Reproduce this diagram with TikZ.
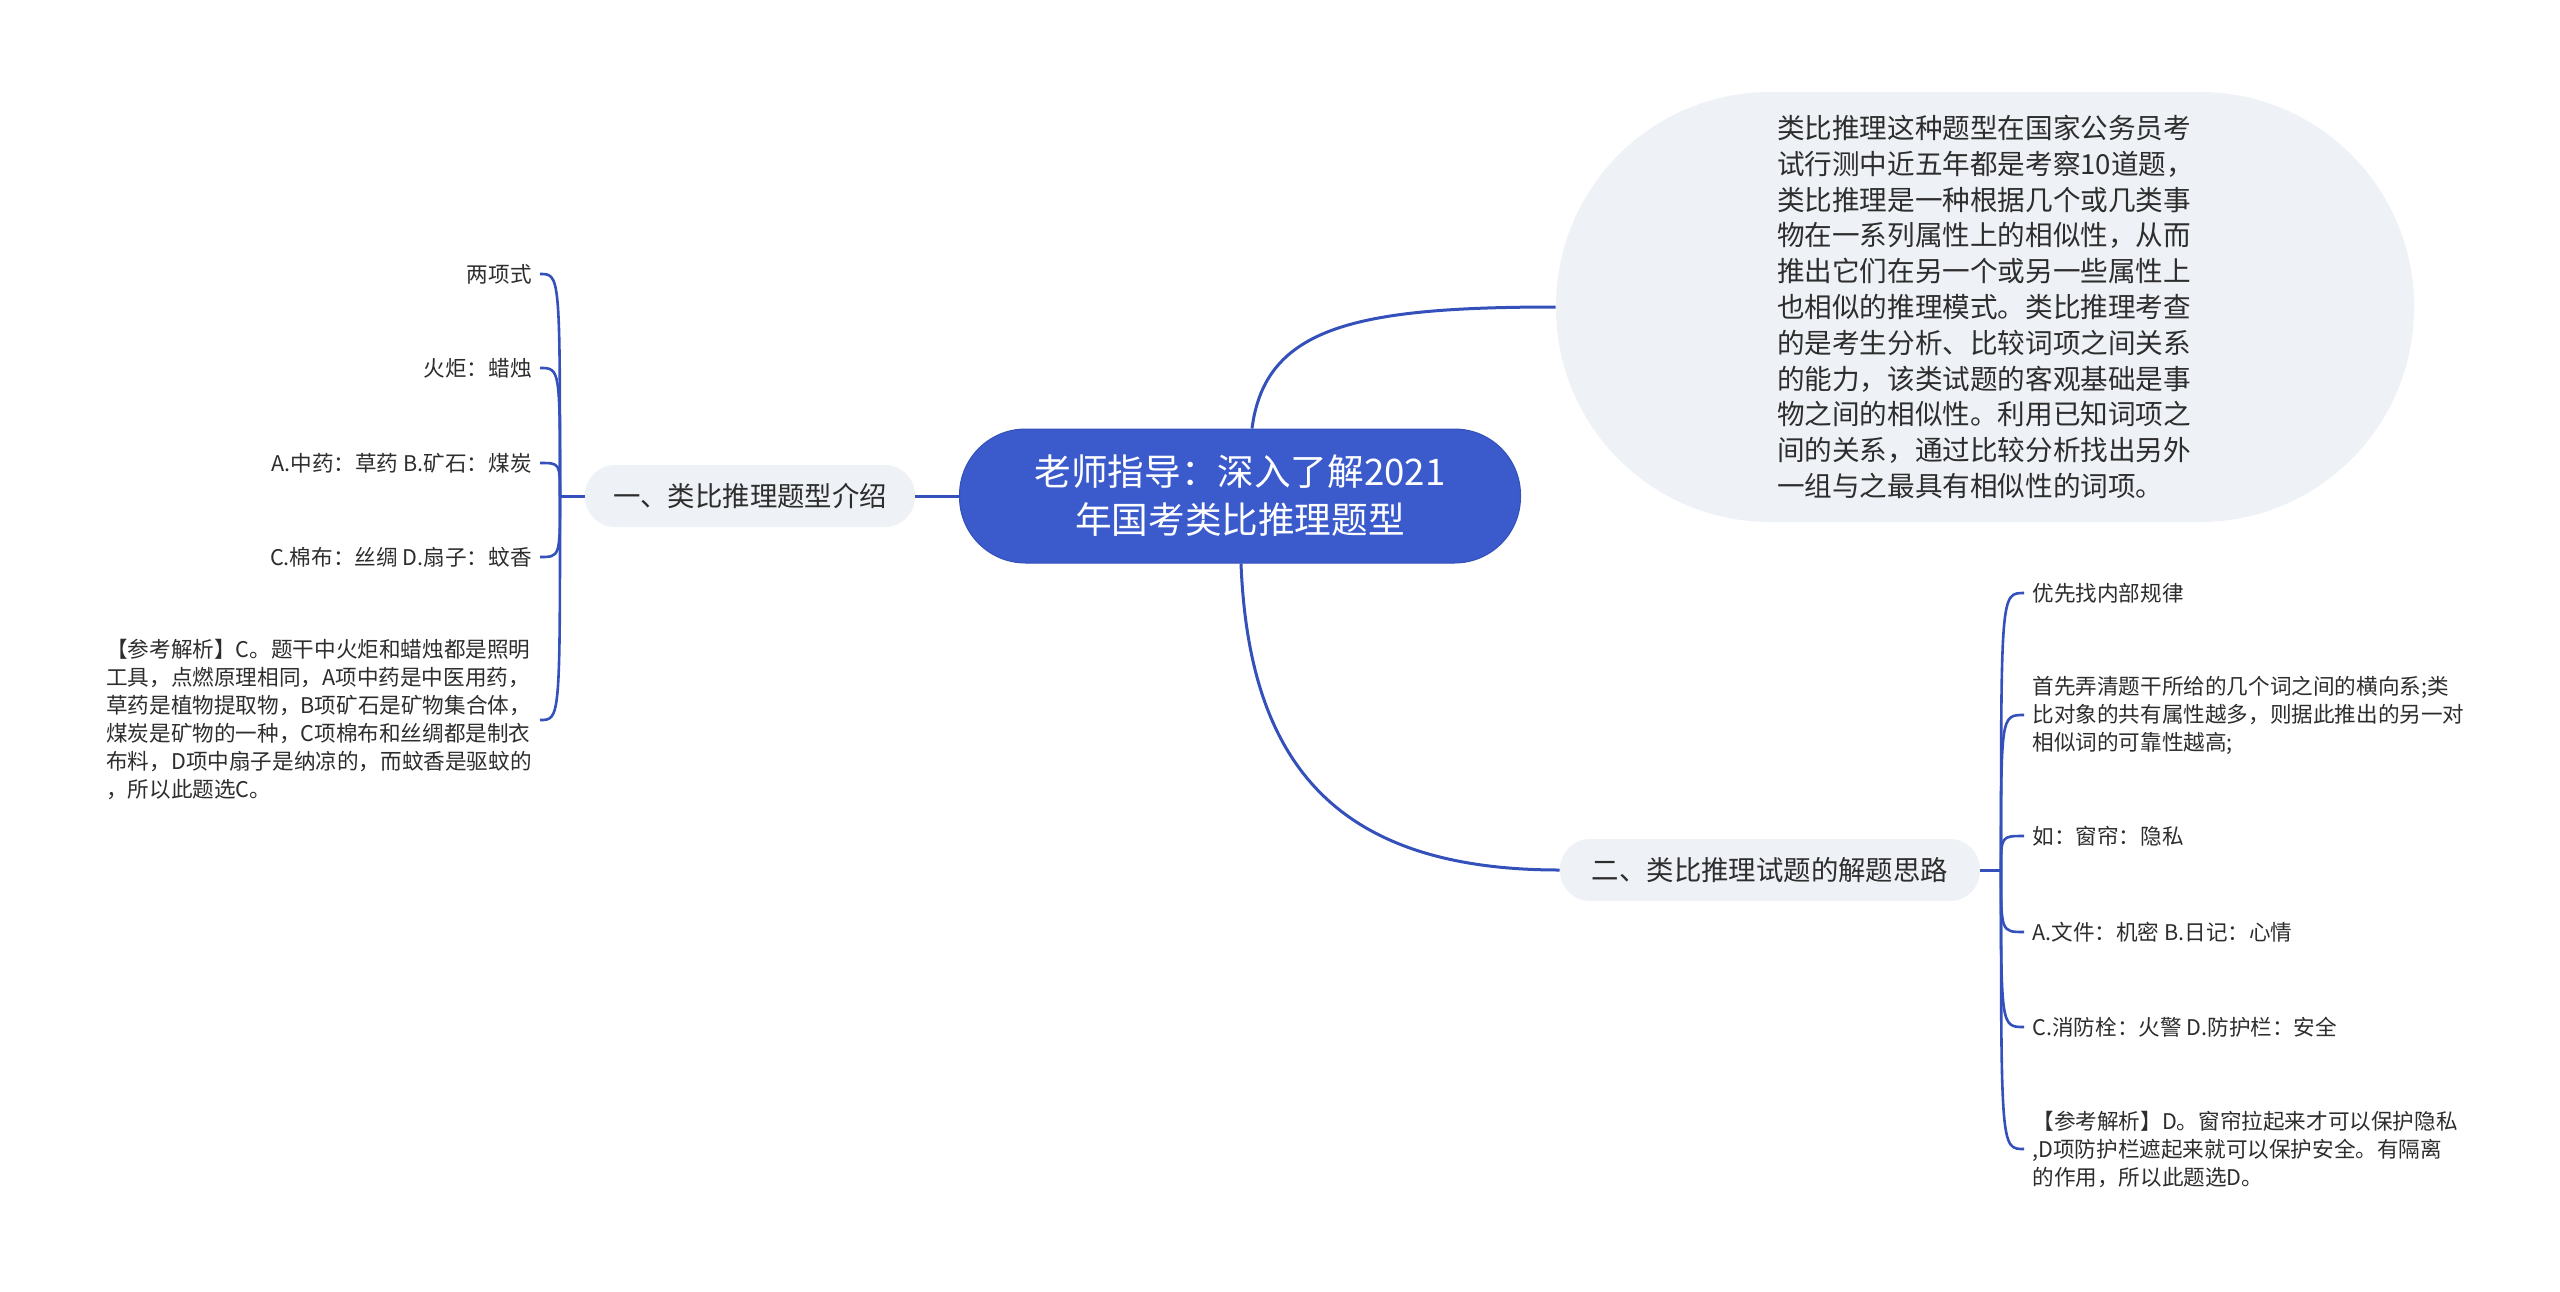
\documentclass[tikz,border=0pt]{standalone}
\usepackage{fontspec}
\setmainfont{Noto Sans CJK SC}
\usepackage{xcolor}
\definecolor{mainblue}{RGB}{59,91,204}
\definecolor{linkblue}{RGB}{52,80,186}
\definecolor{boxgray}{RGB}{238,241,245}
\definecolor{inkgray}{RGB}{45,45,45}
\begin{document}
\begin{tikzpicture}[x=0.5pt, y=-0.5pt,
  root/.style = {draw=linkblue, line width=0.5pt, fill=mainblue, text=white, rounded corners=33pt, minimum width=280.5pt, minimum height=67pt, align=center, font=\fontsize{18.3}{24}\selectfont},
  topic/.style = {fill=boxgray, text=inkgray, rounded corners=15pt, minimum height=31pt, font=\fontsize{13.7}{16}\selectfont},
  leaf/.style = {text=inkgray, inner sep=4pt, align=left, font=\fontsize{10.8}{14}\selectfont},
  link/.style = {draw=linkblue, line width=1.5pt},
  twig/.style = {draw=linkblue, line width=1.3pt}]
\useasboundingbox (0,0) rectangle (2560,1291);

\node[root] (root) at (1240,496) {老师指导：深入了解2021\\年国考类比推理题型};
\node[topic, minimum width=429pt, minimum height=215pt, rounded corners=107pt, text width=208pt, align=left, font=\fontsize{13.8}{17.9}\selectfont] (intro) at (1985,307)
  {类比推理这种题型在国家公务员考\\试行测中近五年都是考察10道题，\\类比推理是一种根据几个或几类事\\物在一系列属性上的相似性，从而\\推出它们在另一个或另一些属性上\\也相似的推理模式。类比推理考查\\的是考生分析、比较词项之间关系\\的能力，该类试题的客观基础是事\\物之间的相似性。利用已知词项之\\间的关系，通过比较分析找出另外\\一组与之最具有相似性的词项。};
\node[topic, minimum width=165pt] (b1) at (750,496) {一、类比推理题型介绍};
\node[topic, minimum width=210pt] (b2) at (1770,870) {二、类比推理试题的解题思路};

% left branch
\node[leaf, anchor=east] (c1) at (540,274) {两项式};
\node[leaf, anchor=east] (c2) at (540,368) {火炬：蜡烛};
\node[leaf, anchor=east] (c3) at (540,463) {A.中药：草药 B.矿石：煤炭};
\node[leaf, anchor=east] (c4) at (540,557) {C.棉布：丝绸 D.扇子：蚊香};
\node[leaf, anchor=east] (c5) at (540,720) {【参考解析】C。题干中火炬和蜡烛都是照明\\工具，点燃原理相同，A项中药是中医用药，\\草药是植物提取物，B项矿石是矿物集合体，\\煤炭是矿物的一种，C项棉布和丝绸都是制衣\\布料，D项中扇子是纳凉的，而蚊香是驱蚊的\\，所以此题选C。};

% right branch
\node[leaf, anchor=west] (d1) at (2024,593) {优先找内部规律};
\node[leaf, anchor=west] (d2) at (2024,715) {首先弄清题干所给的几个词之间的横向系;类\\比对象的共有属性越多，则据此推出的另一对\\相似词的可靠性越高;};
\node[leaf, anchor=west] (d3) at (2024,836) {如：窗帘：隐私};
\node[leaf, anchor=west] (d4) at (2024,932) {A.文件：机密 B.日记：心情};
\node[leaf, anchor=west] (d5) at (2024,1027) {C.消防栓：火警 D.防护栏：安全};
\node[leaf, anchor=west] (d6) at (2024,1149) {【参考解析】D。窗帘拉起来才可以保护隐私\\,D项防护栏遮起来就可以保护安全。有隔离\\的作用，所以此题选D。};

\draw[link] (root.west) -- (b1.east);
\draw[link] ([xshift=6pt]root.north) .. controls (1265,327) and (1355,307) .. (intro.west);
\draw[link] ([xshift=0.5pt]root.south) .. controls (1249,767) and (1339,870) .. (b2.west);

\coordinate (lj) at (560,496);
\coordinate (rj) at (2001,870);
\draw[link] (b1.west) -- (lj);
\draw[link] (b2.east) -- (rj);
\foreach \c in {c1,c2,c3,c4,c5}
  \draw[twig] (lj) .. controls (lj |- \c) and (lj |- \c) .. (\c.east);
\foreach \d in {d1,d2,d3,d4,d5,d6}
  \draw[twig] (rj) .. controls (rj |- \d) and (rj |- \d) .. (\d.west);
\end{tikzpicture}
\end{document}
